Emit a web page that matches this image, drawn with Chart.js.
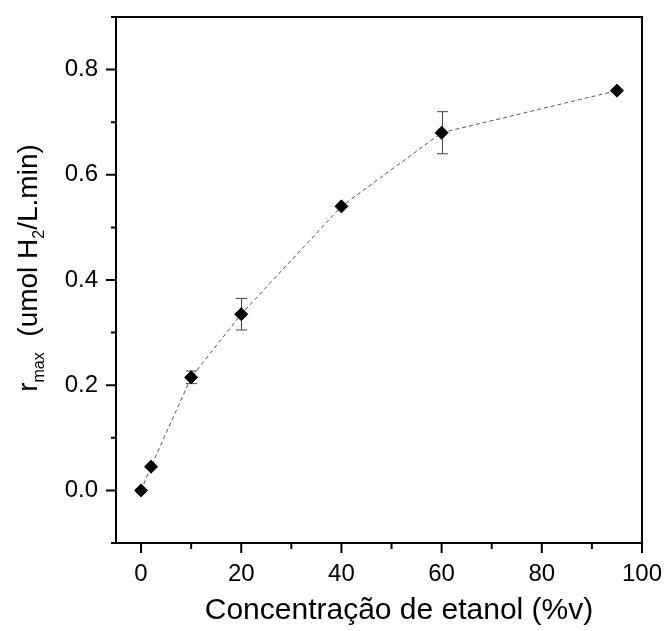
<!DOCTYPE html>
<html lang="pt">
<head>
  <meta charset="UTF-8">
  <title>Velocidade máxima de produção de H2</title>
  <script src="https://cdn.jsdelivr.net/npm/chart.js"></script>
  <style>
    body { margin: 0; background: #fff; }
    #grafico { display: block; }
  </style>
</head>
<body>

<canvas id="grafico" width="664" height="631"></canvas>

<script>
// concentração de etanol (%v) e velocidade máxima com desvio
const concentracao = [0, 2, 10, 20, 40, 60, 95];
const rmax = [0.0, 0.045, 0.215, 0.335, 0.54, 0.68, 0.76];
const desvio = [0, 0, 0.012, 0.03, 0, 0.04, 0];

const ticksX = [0, 20, 40, 60, 80, 100];
const ticksY = [0.0, 0.2, 0.4, 0.6, 0.8];
const menoresX = [10, 30, 50, 70, 90];
const menoresY = [-0.1, 0.1, 0.3, 0.5, 0.7, 0.9];

const fonte = "Arial, 'Liberation Sans', sans-serif";

// barras de erro, moldura, marcas dos eixos e títulos
const extras = {
  id: 'extras',
  beforeDatasetsDraw(chart) {
    const ctx = chart.ctx;
    const sx = chart.scales.x, sy = chart.scales.y;
    ctx.save();
    ctx.strokeStyle = '#444';
    ctx.lineWidth = 1;
    concentracao.forEach((c, i) => {
      if (!desvio[i]) return;
      const x = Math.round(sx.getPixelForValue(c)) + 0.5;
      const y1 = sy.getPixelForValue(rmax[i] + desvio[i]);
      const y2 = sy.getPixelForValue(rmax[i] - desvio[i]);
      ctx.beginPath();
      ctx.moveTo(x, y1); ctx.lineTo(x, y2);
      ctx.moveTo(x - 5.5, y1); ctx.lineTo(x + 5.5, y1);
      ctx.moveTo(x - 5.5, y2); ctx.lineTo(x + 5.5, y2);
      ctx.stroke();
    });
    ctx.restore();
  },
  afterDraw(chart) {
    const ctx = chart.ctx;
    const a = chart.chartArea;
    const sx = chart.scales.x, sy = chart.scales.y;
    ctx.save();
    ctx.strokeStyle = '#000';
    ctx.lineWidth = 2;
    ctx.strokeRect(a.left, a.top, a.right - a.left, a.bottom - a.top);

    ctx.beginPath();
    ticksX.forEach(v => { const x = sx.getPixelForValue(v); ctx.moveTo(x, a.bottom); ctx.lineTo(x, a.bottom + 10); });
    menoresX.forEach(v => { const x = sx.getPixelForValue(v); ctx.moveTo(x, a.bottom); ctx.lineTo(x, a.bottom + 6); });
    ticksY.forEach(v => { const y = sy.getPixelForValue(v); ctx.moveTo(a.left, y); ctx.lineTo(a.left - 10, y); });
    menoresY.forEach(v => { const y = sy.getPixelForValue(v); ctx.moveTo(a.left, y); ctx.lineTo(a.left - 5, y); });
    ctx.stroke();

    // título do eixo x
    ctx.fillStyle = '#000';
    ctx.font = '30px ' + fonte;
    ctx.textAlign = 'center';
    ctx.textBaseline = 'middle';
    ctx.fillText('Concentração de etanol (%v)', 399, 611);

    // título do eixo y com subscritos
    const partes = [
      { t: 'r', s: 28, d: 0 },
      { t: 'max', s: 16, d: 7 },
      { t: '  (umol H', s: 28, d: 0 },
      { t: '2', s: 16, d: 7 },
      { t: '/L.min)', s: 28, d: 0 }
    ];
    ctx.textAlign = 'left';
    ctx.textBaseline = 'alphabetic';
    let total = 0;
    partes.forEach(p => { ctx.font = p.s + 'px ' + fonte; p.w = ctx.measureText(p.t).width; total += p.w; });
    ctx.translate(37, 268);
    ctx.rotate(-Math.PI / 2);
    let pos = -total / 2;
    partes.forEach(p => {
      ctx.font = p.s + 'px ' + fonte;
      ctx.fillText(p.t, pos, p.d);
      pos += p.w;
    });
    ctx.restore();
  }
};

new Chart(document.getElementById('grafico'), {
  type: 'line',
  data: {
    datasets: [{
      data: concentracao.map((c, i) => ({ x: c, y: rmax[i] })),
      borderColor: '#555',
      borderWidth: 1,
      borderDash: [4, 3],
      pointStyle: 'rectRot',
      pointRadius: 6.5,
      pointBackgroundColor: '#000',
      pointBorderColor: '#000',
      pointBorderWidth: 1,
      tension: 0
    }]
  },
  options: {
    responsive: false,
    animation: false,
    layout: { padding: { left: 0, top: 17, right: 22, bottom: 0 } },
    plugins: { legend: { display: false }, tooltip: { enabled: false } },
    scales: {
      x: {
        type: 'linear',
        min: -5,
        max: 100,
        grid: { display: false, drawTicks: false },
        border: { display: false },
        afterBuildTicks: s => { s.ticks = ticksX.map(v => ({ value: v })); },
        afterFit: s => { s.height = 88; s.paddingLeft = 0; s.paddingRight = 0; },
        ticks: { color: '#000', padding: 17, maxRotation: 0, font: { family: fonte, size: 24 } }
      },
      y: {
        type: 'linear',
        min: -0.1,
        max: 0.9,
        grid: { display: false, drawTicks: false },
        border: { display: false },
        afterBuildTicks: s => { s.ticks = ticksY.map(v => ({ value: v })); },
        afterFit: s => { s.width = 116; s.paddingTop = 0; s.paddingBottom = 0; },
        ticks: { color: '#000', padding: 18, font: { family: fonte, size: 24 }, callback: v => v.toFixed(1) }
      }
    }
  },
  plugins: [extras]
});
</script>

</body>
</html>
